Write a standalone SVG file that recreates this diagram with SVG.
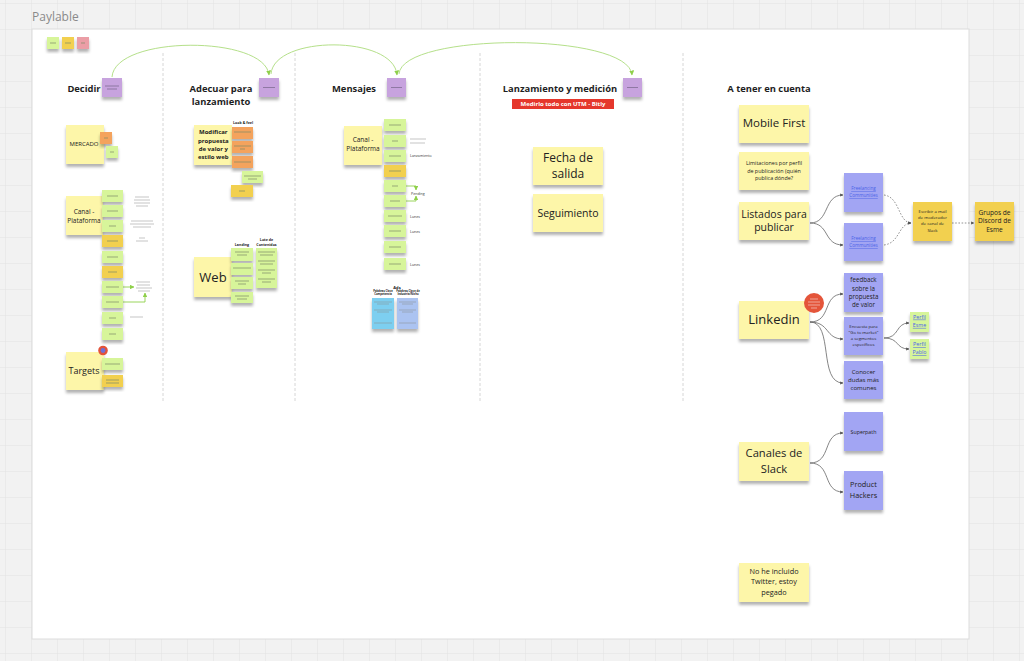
<svg xmlns="http://www.w3.org/2000/svg" width="1024" height="661" viewBox="0 0 1024 661">
<defs>
<pattern id="grid" width="26" height="26" patternUnits="userSpaceOnUse" x="6" y="4">
<rect width="26" height="26" fill="#f2f2f2"/>
<path d="M26 0V26M0 26H26" fill="none" stroke="#e3e3e3" stroke-width="1"/>
</pattern>
<filter id="sh" x="-20%" y="-20%" width="140%" height="160%">
<feDropShadow dx="0" dy="3" stdDeviation="1.6" flood-color="#000" flood-opacity="0.3"/>
</filter>
<marker id="ag" viewBox="0 0 10 10" refX="9" refY="5" markerWidth="5" markerHeight="5" orient="auto"><path d="M0 0L10 5L0 10z" fill="#8fd04a"/></marker>
<marker id="ad" viewBox="0 0 10 10" refX="9" refY="5" markerWidth="4" markerHeight="4" orient="auto"><path d="M0 0L10 5L0 10z" fill="#555"/></marker>
<style>
.y{fill:#fdf6a9}.g{fill:#d7f59a}.o{fill:#f4a35d}.yd{fill:#f2d04f}.p{fill:#c7a3de}.b{fill:#a2a5f3}.c{fill:#7dcff0}.lb{fill:#abc3f1}.pk{fill:#eb9ea6}
.s{filter:url(#sh)}
.t{font-family:"Open Sans","Liberation Sans",sans-serif;fill:#222;text-anchor:middle}
.h{font-weight:700;font-size:9.4px;fill:#1e1e1e}
.ln{stroke:#7b8a68;stroke-width:0.7}
.lp{stroke:#6a5a7a;stroke-width:0.6}
.nt{stroke:#888;stroke-width:0.5}
.lk{fill:#4a62e8;text-decoration:underline}
.cg{fill:none;stroke:#b5e08a;stroke-width:1}
.cd{fill:none;stroke:#666;stroke-width:0.8}
.cdd{fill:none;stroke:#777;stroke-width:0.8;stroke-dasharray:1.6 1.6}
.gl{fill:none;stroke:#8fd04a;stroke-width:0.9}
.dv{stroke:#d6d6d6;stroke-width:1;stroke-dasharray:3 2}
</style>
</defs>
<rect width="1024" height="661" fill="url(#grid)"/>
<text x="32" y="21" font-family="Open Sans, Liberation Sans, sans-serif" font-size="12" fill="#8a8a8a">Paylable</text>
<rect x="32" y="29" width="937" height="610" fill="#fff" stroke="#dcdcdc" stroke-width="1"/>

<g id="dividers">
<line class="dv" x1="163" y1="53" x2="163" y2="402"/>
<line class="dv" x1="295" y1="53" x2="295" y2="402"/>
<line class="dv" x1="480" y1="53" x2="480" y2="402"/>
<line class="dv" x1="683" y1="53" x2="683" y2="402"/>
</g>

<g id="legend">
<rect class="g s" x="47" y="37" width="12" height="12"/><line class="ln" x1="50" y1="43" x2="56" y2="43"/>
<rect class="yd s" x="62" y="37" width="12" height="12"/><line class="ln" x1="65" y1="43" x2="71" y2="43"/>
<rect class="pk s" x="77" y="37" width="12" height="12"/><line class="ln" x1="81" y1="43" x2="85" y2="43"/>
</g>

<g id="titles">
<text class="t h" x="84" y="92">Decidir</text>
<text class="t h" x="221" y="92">Adecuar para</text>
<text class="t h" x="221" y="104.5">lanzamiento</text>
<text class="t h" x="354" y="92">Mensajes</text>
<text class="t h" x="560" y="92">Lanzamiento y medición</text>
<text class="t h" x="769" y="92">A tener en cuenta</text>
</g>

<g id="utm-label">
<rect x="512" y="99" width="102" height="10" fill="#e5372c"/>
<text class="t" x="563" y="106.2" font-size="6" font-weight="700" style="fill:#fff">Medirlo todo con UTM - Bitly</text>
</g>

<g id="phase-stickies">
<rect class="p s" x="102" y="78" width="20" height="19"/><line class="lp" x1="105" y1="86" x2="119" y2="86"/><line class="lp" x1="107" y1="89" x2="117" y2="89"/>
<rect class="p s" x="259" y="78" width="20" height="19"/><line class="lp" x1="263" y1="87.5" x2="275" y2="87.5"/>
<rect class="p s" x="387" y="78" width="19" height="19"/><line class="lp" x1="391" y1="87.5" x2="402" y2="87.5"/>
<rect class="p s" x="623" y="78" width="19" height="19"/><line class="lp" x1="627" y1="87.5" x2="638" y2="87.5"/>
</g>

<g id="connectors">
<path class="cg" d="M112 77C115 35 265 35 269 75" marker-end="url(#ag)"/>
<path class="cg" d="M271 74C274 35 394 35 397 75" marker-end="url(#ag)"/>
<path class="cg" d="M399 74C402 32 629 32 632 75" marker-end="url(#ag)"/>
<path class="gl" d="M123 287H134" marker-end="url(#ag)"/>
<path class="gl" d="M123 302H145V293" marker-end="url(#ag)"/>
<path class="gl" d="M406 186H416V190" marker-end="url(#ag)"/>
<path class="gl" d="M406 201H416V196" marker-end="url(#ag)"/>
<path class="cd" d="M810 223C830 223 823 195 843 195" marker-end="url(#ad)"/>
<path class="cd" d="M810 223C830 223 823 245 843 245" marker-end="url(#ad)"/>
<path class="cdd" d="M884 195C900 197 898 222 911 223" marker-end="url(#ad)"/>
<path class="cdd" d="M884 245C900 243 898 224 911 223" marker-end="url(#ad)"/>
<path class="cdd" d="M952 223H974" marker-end="url(#ad)"/>
<path class="cd" d="M810 322C832 322 822 294 843 294" marker-end="url(#ad)"/>
<path class="cd" d="M810 322C830 322 825 339 843 339" marker-end="url(#ad)"/>
<path class="cd" d="M810 322C834 322 818 383 843 383" marker-end="url(#ad)"/>
<path class="cd" d="M884 338C900 338 895 323 909 323" marker-end="url(#ad)"/>
<path class="cd" d="M884 338C900 338 895 349 909 349" marker-end="url(#ad)"/>
<path class="cd" d="M810 463C832 463 822 433 843 433" marker-end="url(#ad)"/>
<path class="cd" d="M810 463C832 463 822 492 843 492" marker-end="url(#ad)"/>
</g>

<g id="decidir-mercado">
<rect class="y s" x="66" y="125" width="38" height="39"/>
<text class="t" x="84" y="146.4" font-size="6">MERCADO</text>
<rect class="o s" x="100" y="132" width="12" height="12"/><line class="ln" x1="104" y1="138" x2="108" y2="138"/>
<rect class="g s" x="106" y="146" width="12" height="12"/><line class="ln" x1="110" y1="152" x2="114" y2="152"/>
</g>

<g id="decidir-canal">
<rect class="y s" x="66" y="196" width="37" height="39"/>
<text class="t" x="84" y="214" font-size="6.5">Canal -</text>
<text class="t" x="84" y="222.5" font-size="6.5">Plataforma</text>
</g>

<g id="decidir-canal-items">
<rect class="g s" x="102" y="190" width="21" height="12"/><line class="ln" x1="107" y1="196" x2="118" y2="196"/>
<rect class="g s" x="102" y="205" width="21" height="12"/><line class="ln" x1="107" y1="211" x2="118" y2="211"/>
<rect class="g s" x="102" y="220" width="21" height="12"/><line class="ln" x1="109" y1="226" x2="116" y2="226"/>
<rect class="yd s" x="102" y="235" width="21" height="12"/><line class="ln" x1="107" y1="241" x2="118" y2="241"/>
<rect class="g s" x="102" y="251" width="21" height="12"/><line class="ln" x1="107" y1="257" x2="118" y2="257"/>
<rect class="yd s" x="102" y="266" width="21" height="12"/><line class="ln" x1="108" y1="272" x2="117" y2="272"/>
<rect class="g s" x="102" y="281" width="21" height="12"/><line class="ln" x1="106" y1="287" x2="119" y2="287"/>
<rect class="g s" x="102" y="296" width="21" height="12"/><line class="ln" x1="106" y1="302" x2="119" y2="302"/>
<rect class="g s" x="102" y="312" width="21" height="12"/><line class="ln" x1="109" y1="318" x2="116" y2="318"/>
<rect class="g s" x="102" y="328" width="21" height="12"/><line class="ln" x1="109" y1="334" x2="116" y2="334"/>
</g>

<g id="decidir-notes">
<line class="nt" x1="135" y1="197" x2="149" y2="197"/><line class="nt" x1="134" y1="200" x2="150" y2="200"/><line class="nt" x1="134" y1="203" x2="150" y2="203"/><line class="nt" x1="136" y1="206" x2="148" y2="206"/>
<line class="nt" x1="131" y1="221" x2="153" y2="221"/><line class="nt" x1="130" y1="224" x2="154" y2="224"/><line class="nt" x1="133" y1="227" x2="151" y2="227"/>
<line class="nt" x1="139" y1="238" x2="145" y2="238"/><line class="nt" x1="136" y1="241" x2="148" y2="241"/>
<line class="nt" x1="136" y1="282" x2="150" y2="282"/><line class="nt" x1="137" y1="285" x2="150" y2="285"/><line class="nt" x1="136" y1="288" x2="152" y2="288"/><line class="nt" x1="138" y1="291" x2="150" y2="291"/>
<line class="nt" x1="130" y1="317" x2="143" y2="317"/>
</g>

<g id="decidir-targets">
<rect class="y s" x="66" y="352" width="38" height="38"/>
<text class="t" x="84" y="374.2" font-size="9">Targets</text>
<rect class="g s" x="102" y="358" width="21" height="12"/><line class="ln" x1="105" y1="364" x2="120" y2="364"/>
<rect class="yd s" x="102" y="375" width="21" height="12"/><line class="ln" x1="106" y1="380" x2="119" y2="380"/><line class="ln" x1="106" y1="383" x2="119" y2="383"/>
<circle cx="103" cy="350.5" r="4.8" fill="#e3533a"/><circle cx="103" cy="350.5" r="2.4" fill="#6f6fd6"/>
</g>

<g id="adecuar-modificar">
<rect class="y s" x="194" y="125" width="38" height="40"/>
<text class="t" x="213.3" y="134.4" font-size="6" font-weight="700">Modificar</text>
<text class="t" x="213.3" y="142.8" font-size="6" font-weight="700">propuesta</text>
<text class="t" x="213.3" y="151.1" font-size="6" font-weight="700">de valor y</text>
<text class="t" x="213.3" y="158.8" font-size="6" font-weight="700">estilo web</text>
</g>

<g id="adecuar-look">
<text class="t" x="243" y="123.5" font-size="3.6" font-weight="700">Look &amp; feel</text>
<rect class="o s" x="232" y="127" width="21" height="12"/><line class="ln" x1="234" y1="132" x2="251" y2="132"/>
<rect class="o s" x="232" y="141" width="21" height="12"/><line class="ln" x1="234" y1="146" x2="251" y2="146"/><line class="ln" x1="240" y1="149" x2="245" y2="149"/>
<rect class="o s" x="232" y="156" width="21" height="12"/><line class="ln" x1="234" y1="162" x2="251" y2="162"/>
<rect class="g s" x="242" y="171" width="21" height="12"/><line class="ln" x1="244" y1="176" x2="261" y2="176"/><line class="ln" x1="248" y1="179" x2="257" y2="179"/>
<rect class="yd s" x="231" y="185" width="22" height="12"/><line class="ln" x1="239" y1="191" x2="245" y2="191"/>
</g>

<g id="adecuar-web">
<rect class="y s" x="194" y="257" width="38" height="40"/>
<text class="t" x="213" y="281.5" font-size="13">Web</text>
<text class="t" x="242" y="245.5" font-size="3.6" font-weight="700">Landing</text>
<text class="t" x="266.5" y="241" font-size="3.6" font-weight="700">Lote de</text>
<text class="t" x="266.5" y="245.5" font-size="3.6" font-weight="700">Contenidos</text>
<rect class="g s" x="231" y="248" width="22" height="13"/><line class="ln" x1="235" y1="252" x2="249" y2="252"/><line class="ln" x1="237" y1="255" x2="247" y2="255"/>
<rect class="g s" x="231" y="263" width="22" height="12"/><line class="ln" x1="233" y1="268" x2="251" y2="268"/>
<rect class="g s" x="231" y="277" width="22" height="12"/><line class="ln" x1="235" y1="281" x2="249" y2="281"/><line class="ln" x1="238" y1="284" x2="246" y2="284"/>
<rect class="g s" x="231" y="292" width="22" height="11"/><line class="ln" x1="235" y1="296" x2="249" y2="296"/><line class="ln" x1="237" y1="299" x2="247" y2="299"/>
<rect class="g s" x="256" y="248" width="21" height="40"/>
<line class="ln" x1="258" y1="252" x2="275" y2="252"/><line class="ln" x1="260" y1="255" x2="273" y2="255"/>
<line class="ln" x1="258" y1="261" x2="275" y2="261"/><line class="ln" x1="260" y1="264" x2="273" y2="264"/>
<line class="ln" x1="258" y1="270" x2="275" y2="270"/><line class="ln" x1="262" y1="273" x2="271" y2="273"/>
<line class="ln" x1="258" y1="279" x2="275" y2="279"/><line class="ln" x1="262" y1="282" x2="271" y2="282"/>
</g>

<g id="mensajes-canal">
<rect class="y s" x="344" y="126" width="38" height="39"/>
<text class="t" x="363" y="142.3" font-size="6.5">Canal -</text>
<text class="t" x="363" y="151.3" font-size="6.5">Plataforma</text>
</g>

<g id="mensajes-items">
<rect class="g s" x="384" y="119" width="22" height="12"/><line class="ln" x1="389" y1="125" x2="401" y2="125"/>
<rect class="g s" x="384" y="135" width="22" height="12"/><line class="ln" x1="392" y1="141" x2="398" y2="141"/>
<rect class="g s" x="384" y="150" width="22" height="12"/><line class="ln" x1="389" y1="156" x2="401" y2="156"/>
<rect class="yd s" x="384" y="165" width="22" height="12"/><line class="ln" x1="389" y1="171" x2="401" y2="171"/>
<rect class="g s" x="384" y="180" width="22" height="12"/><line class="ln" x1="392" y1="186" x2="398" y2="186"/>
<rect class="g s" x="384" y="195" width="22" height="12"/><line class="ln" x1="390" y1="201" x2="400" y2="201"/>
<rect class="g s" x="384" y="210" width="22" height="12"/><line class="ln" x1="388" y1="216" x2="402" y2="216"/>
<rect class="g s" x="384" y="225" width="22" height="12"/><line class="ln" x1="389" y1="231" x2="401" y2="231"/>
<rect class="g s" x="384" y="241" width="22" height="12"/><line class="ln" x1="389" y1="247" x2="401" y2="247"/>
<rect class="g s" x="384" y="258" width="22" height="12"/><line class="ln" x1="389" y1="264" x2="401" y2="264"/>
</g>

<g id="mensajes-notes">
<line class="nt" x1="410" y1="139" x2="426" y2="139"/><line class="nt" x1="410" y1="143" x2="425" y2="143"/>
<text x="410" y="157.3" font-family="Open Sans, Liberation Sans, sans-serif" font-size="3.6" fill="#333">Lanzamiento</text>
<text x="411" y="195" font-family="Open Sans, Liberation Sans, sans-serif" font-size="3.6" fill="#333">Pending</text>
<text x="410" y="217.5" font-family="Open Sans, Liberation Sans, sans-serif" font-size="3.6" fill="#333">Lunes</text>
<text x="410" y="232.8" font-family="Open Sans, Liberation Sans, sans-serif" font-size="3.6" fill="#333">Lunes</text>
<text x="410" y="265.8" font-family="Open Sans, Liberation Sans, sans-serif" font-size="3.6" fill="#333">Lunes</text>
</g>

<g id="mensajes-ads">
<text class="t" x="397" y="288.5" font-size="4" font-weight="700">Ads</text>
<text class="t" x="383" y="292" font-size="2.7" font-weight="700">Palabras Clave</text>
<text class="t" x="383" y="295.4" font-size="2.7" font-weight="700">Competencia</text>
<text class="t" x="408" y="292" font-size="2.7" font-weight="700">Palabras Clave de</text>
<text class="t" x="408" y="295.4" font-size="2.7" font-weight="700">Industria/Nicho</text>
<rect class="c s" x="372" y="298" width="22" height="31"/>
<line class="nt" x1="374" y1="302" x2="392" y2="302"/><line class="nt" x1="377" y1="304" x2="389" y2="304"/>
<line class="nt" x1="374" y1="310" x2="392" y2="310"/><line class="nt" x1="377" y1="312" x2="389" y2="312"/>
<line class="nt" x1="374" y1="323" x2="392" y2="323"/>
<rect class="lb s" x="397" y="298" width="21" height="31"/>
<line class="nt" x1="399" y1="302" x2="416" y2="302"/><line class="nt" x1="402" y1="304" x2="413" y2="304"/>
<line class="nt" x1="399" y1="310" x2="416" y2="310"/><line class="nt" x1="402" y1="312" x2="413" y2="312"/>
<line class="nt" x1="399" y1="323" x2="416" y2="323"/>
</g>

<g id="fecha-salida">
<rect class="y s" x="533" y="147" width="70" height="38"/>
<text class="t" x="568" y="161.9" font-size="12">Fecha de</text>
<text class="t" x="568" y="177.5" font-size="12">salida</text>
</g>
<g id="seguimiento">
<rect class="y s" x="533" y="194" width="70" height="38"/>
<text class="t" x="568" y="217" font-size="10.5">Seguimiento</text>
</g>

<g id="mobile-first">
<rect class="y s" x="739" y="105" width="70" height="38"/>
<text class="t" x="774" y="127.4" font-size="11.5">Mobile First</text>
</g>
<g id="limitaciones">
<rect class="y s" x="739" y="152" width="70" height="38"/>
<text class="t" x="774" y="164.6" font-size="5.4">Limitaciones por perfil</text>
<text class="t" x="774" y="172.6" font-size="5.4">de publicación (quién</text>
<text class="t" x="774" y="180.2" font-size="5.4">publica dónde?</text>
</g>
<g id="listados">
<rect class="y s" x="739" y="202" width="70" height="38"/>
<text class="t" x="774" y="218" font-size="10.5">Listados para</text>
<text class="t" x="774" y="231.4" font-size="10.5">publicar</text>
</g>
<g id="freelancing-1">
<rect class="b s" x="844" y="173" width="39" height="39"/>
<text class="t lk" x="863.5" y="190" font-size="4.6">Freelancing</text>
<text class="t lk" x="863.5" y="197.4" font-size="4.6">Communities</text>
</g>
<g id="freelancing-2">
<rect class="b s" x="844" y="223" width="39" height="38"/>
<text class="t lk" x="863.5" y="240" font-size="4.6">Freelancing</text>
<text class="t lk" x="863.5" y="247.4" font-size="4.6">Communities</text>
</g>
<g id="escribir">
<rect class="yd s" x="913" y="202" width="39" height="39"/>
<text class="t" x="932.5" y="212.5" font-size="4.3">Escribir a mail</text>
<text class="t" x="932.5" y="218.8" font-size="4.3">de moderador</text>
<text class="t" x="932.5" y="225.2" font-size="4.3">de canal de</text>
<text class="t" x="932.5" y="231.5" font-size="4.3">Slack</text>
</g>
<g id="grupos-discord">
<rect class="yd s" x="975" y="202" width="39" height="39"/>
<text class="t" x="994.5" y="214.7" font-size="6.6">Grupos de</text>
<text class="t" x="994.5" y="223.1" font-size="6.6">Discord de</text>
<text class="t" x="994.5" y="231.7" font-size="6.6">Esme</text>
</g>

<g id="linkedin">
<rect class="y s" x="739" y="301" width="70" height="38"/>
<text class="t" x="774" y="323.8" font-size="13">Linkedin</text>
<circle cx="814" cy="303" r="10" fill="#e4553a"/>
<line x1="810" y1="299" x2="818" y2="299" stroke="#fff" stroke-width="0.6" opacity="0.8"/>
<line x1="808" y1="302" x2="820" y2="302" stroke="#fff" stroke-width="0.6" opacity="0.8"/>
<line x1="808" y1="305" x2="820" y2="305" stroke="#fff" stroke-width="0.6" opacity="0.8"/>
<line x1="811" y1="308" x2="817" y2="308" stroke="#fff" stroke-width="0.6" opacity="0.8"/>
</g>
<g id="feedback">
<rect class="b s" x="844" y="273" width="39" height="39"/>
<text class="t" x="863.5" y="282.2" font-size="6.2">feedback</text>
<text class="t" x="863.5" y="290.5" font-size="6.2">sobre la</text>
<text class="t" x="863.5" y="298.9" font-size="6.2">propuesta</text>
<text class="t" x="863.5" y="306.5" font-size="6.2">de valor</text>
</g>
<g id="encuesta">
<rect class="b s" x="844" y="317" width="39" height="38"/>
<text class="t" x="863.5" y="328.2" font-size="4.3">Encuesta para</text>
<text class="t" x="863.5" y="334.2" font-size="4.3">"Go to market"</text>
<text class="t" x="863.5" y="340.2" font-size="4.3">a segmentos</text>
<text class="t" x="863.5" y="346.2" font-size="4.3">específicos</text>
</g>
<g id="conocer">
<rect class="b s" x="844" y="361" width="39" height="38"/>
<text class="t" x="863.5" y="373.8" font-size="6.1">Conocer</text>
<text class="t" x="863.5" y="382.1" font-size="6.1">dudas más</text>
<text class="t" x="863.5" y="390.4" font-size="6.1">comunes</text>
</g>
<g id="perfil-esme">
<rect class="g s" x="910" y="312" width="19" height="20"/>
<text class="t lk" x="919.5" y="318.6" font-size="5.3">Perfil</text>
<text class="t lk" x="919.5" y="326.9" font-size="5.3">Esme</text>
</g>
<g id="perfil-pablo">
<rect class="g s" x="910" y="339" width="19" height="20"/>
<text class="t lk" x="919.5" y="346.2" font-size="5.3">Perfil</text>
<text class="t lk" x="919.5" y="354.2" font-size="5.3">Pablo</text>
</g>

<g id="canales-slack">
<rect class="y s" x="739" y="442" width="70" height="39"/>
<text class="t" x="774" y="457.3" font-size="11.2">Canales de</text>
<text class="t" x="774" y="473" font-size="11.2">Slack</text>
</g>
<g id="superpath">
<rect class="b s" x="844" y="412" width="39" height="39"/>
<text class="t" x="863.5" y="433.6" font-size="5.3">Superpath</text>
</g>
<g id="product-hackers">
<rect class="b s" x="844" y="471" width="39" height="39"/>
<text class="t" x="863.5" y="486.6" font-size="7.3">Product</text>
<text class="t" x="863.5" y="498.3" font-size="7.3">Hackers</text>
</g>

<g id="no-twitter">
<rect class="y s" x="739" y="563" width="70" height="39"/>
<text class="t" x="774" y="573.6" font-size="7.3">No he incluido</text>
<text class="t" x="774" y="584.3" font-size="7.3">Twitter, estoy</text>
<text class="t" x="774" y="594.9" font-size="7.3">pegado</text>
</g>
</svg>
